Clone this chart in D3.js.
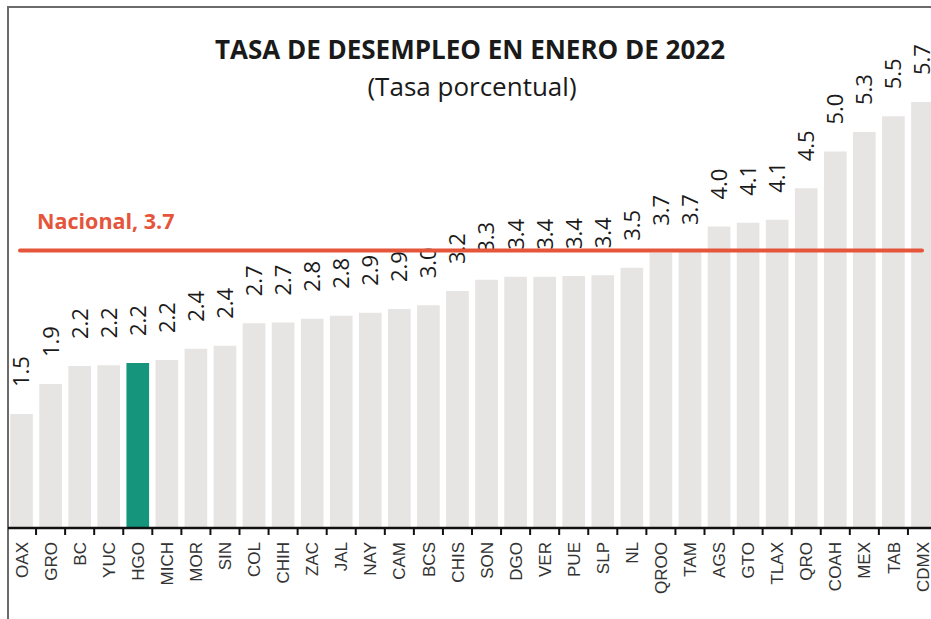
<!DOCTYPE html>
<html>
<head>
<meta charset="utf-8">
<script src="https://cdn.jsdelivr.net/npm/d3@7"></script>
<style>
  html, body { margin: 0; padding: 0; background: #fff; overflow: hidden; }
  svg { display: block; }
</style>
</head>
<body>
<div id="chart"></div>
<script>
// Estados, ordenados de menor a mayor tasa
const states = ['OAX', 'GRO', 'BC', 'YUC', 'HGO', 'MICH', 'MOR', 'SIN', 'COL', 'CHIH',
  'ZAC', 'JAL', 'NAY', 'CAM', 'BCS', 'CHIS', 'SON', 'DGO', 'VER', 'PUE', 'SLP', 'NL',
  'QROO', 'TAM', 'AGS', 'GTO', 'TLAX', 'QRO', 'COAH', 'MEX', 'TAB', 'CDMX'];

// Tasa de desempleo (%), enero 2022
const rates = [1.52, 1.92, 2.16, 2.17, 2.2, 2.24, 2.39, 2.43, 2.73, 2.74,
  2.79, 2.83, 2.87, 2.92, 2.97, 3.16, 3.31, 3.35, 3.35, 3.36, 3.37, 3.47,
  3.67, 3.68, 4.02, 4.07, 4.11, 4.53, 5.02, 5.28, 5.49, 5.68];

const highlight = ['HGO'];
const nacional = 3.7;

const title = 'TASA DE DESEMPLEO EN ENERO DE 2022';
const subtitle = '(Tasa porcentual)';
const nacionalLabel = 'Nacional, 3.7';

const width = 931;
const height = 619;

const data = states.map((s, i) => ({ state: s, value: rates[i] }));

const svg = d3.select('#chart')
  .append('svg')
  .attr('width', width)
  .attr('height', height);

// frame (only top and left edges are visible in the crop)
svg.append('path')
  .attr('d', `M8,${height} V7 H${width}`)
  .attr('fill', 'none')
  .attr('stroke', '#6b6b6b')
  .attr('stroke-width', 2);

const x = d3.scaleBand()
  .domain(states)
  .range([7, 937])
  .paddingInner(0.22)
  .paddingOuter(0.11);

const y = d3.scaleLinear()
  .domain([0, 1])
  .range([528, 453]);

// bars
svg.append('g')
  .selectAll('rect')
  .data(data)
  .join('rect')
  .attr('x', (d) => x(d.state))
  .attr('y', (d) => y(d.value))
  .attr('width', x.bandwidth())
  .attr('height', (d) => y(0) - y(d.value))
  .attr('fill', (d) => highlight.includes(d.state) ? '#14957c' : '#e7e5e4');

// value labels, rotated
svg.append('g')
  .selectAll('text')
  .data(data)
  .join('text')
  .attr('transform', (d) => `translate(${x(d.state) + x.bandwidth() / 2},${y(d.value) - 27}) rotate(-90)`)
  .attr('dy', '0.36em')
  .attr('text-anchor', 'start')
  .attr('font-family', '"Open Sans", sans-serif')
  .attr('font-size', '22px')
  .attr('fill', '#1a1a1a')
  .text((d) => d.value.toFixed(1));

// national average line
svg.append('line')
  .attr('x1', 20)
  .attr('x2', 922)
  .attr('y1', y(nacional))
  .attr('y2', y(nacional))
  .attr('stroke', '#e5553a')
  .attr('stroke-width', 4)
  .attr('stroke-linecap', 'round');

svg.append('text')
  .attr('x', 37)
  .attr('y', y(nacional) - 22)
  .attr('font-family', '"Open Sans", sans-serif')
  .attr('font-weight', 'bold')
  .attr('font-size', '21.5px')
  .attr('fill', '#e5553a')
  .text(nacionalLabel);

// x axis
const axis = svg.append('g')
  .attr('transform', `translate(0,${y(0)})`);

axis.append('line')
  .attr('x1', 8)
  .attr('x2', width)
  .attr('stroke', '#111')
  .attr('stroke-width', 2.5);

// ticks sit on the band boundaries
const boundaries = states.slice(1).map((s) => x(s) - x.step() * x.paddingInner() / 2);
axis.selectAll('line.tick')
  .data(boundaries)
  .join('line')
  .attr('class', 'tick')
  .attr('x1', (d) => d)
  .attr('x2', (d) => d)
  .attr('y1', 0)
  .attr('y2', 7)
  .attr('stroke', '#111')
  .attr('stroke-width', 2);

axis.selectAll('text')
  .data(states)
  .join('text')
  .attr('transform', (d) => `translate(${x(d) + x.bandwidth() / 2},14) rotate(-90)`)
  .attr('dy', '0.36em')
  .attr('text-anchor', 'end')
  .attr('font-family', '"Liberation Sans", Arial, sans-serif')
  .attr('font-size', '17px')
  .attr('fill', '#333')
  .text((d) => d);

// titles
svg.append('text')
  .attr('x', 470)
  .attr('y', 59)
  .attr('text-anchor', 'middle')
  .attr('font-family', '"Open Sans", sans-serif')
  .attr('font-weight', 'bold')
  .attr('font-size', '26px')
  .attr('fill', '#1a1a1a')
  .text(title);

svg.append('text')
  .attr('x', 472)
  .attr('y', 96)
  .attr('text-anchor', 'middle')
  .attr('font-family', '"Open Sans", sans-serif')
  .attr('font-size', '26px')
  .attr('fill', '#1a1a1a')
  .text(subtitle);
</script>
</body>
</html>
